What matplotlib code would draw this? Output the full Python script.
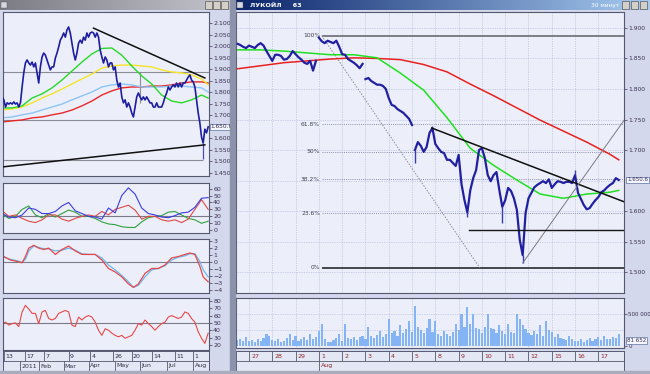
import numpy as np
import matplotlib
matplotlib.use('Agg')
import matplotlib.pyplot as plt
from matplotlib.patches import Rectangle
from matplotlib.ticker import FuncFormatter
from matplotlib.colors import LinearSegmentedColormap
from matplotlib.transforms import blended_transform_factory

# ---------------- left window: daily, Dec 2010 - Aug 2011 ----------------
left_close = [1780, 1767, 1736, 1754, 1749, 1754, 1749, 1758, 1749, 1754,
              1736, 1754, 1823, 1884, 1927, 1940, 1927, 1918, 1931, 1910,
              1927, 1884, 1840, 1910, 1953, 1970, 1961, 1940, 1918, 1897,
              1910, 1910, 1948, 1970, 1996, 2026, 2039, 2057, 2039, 2070,
              2083, 2057, 2013, 1970, 1940, 1970, 2013, 2026, 2013, 2039,
              2026, 2057, 2039, 2057, 2061, 2057, 2039, 2057, 2039, 1983,
              1953, 1927, 1953, 1940, 1910, 1927, 1927, 1897, 1910, 1853,
              1823, 1840, 1780, 1754, 1767, 1736, 1754, 1736, 1710, 1693,
              1736, 1780, 1797, 1780, 1767, 1780, 1767, 1780, 1767, 1754,
              1754, 1736, 1736, 1754, 1736, 1736, 1736, 1754, 1780, 1797,
              1823, 1810, 1823, 1832, 1823, 1840, 1823, 1840, 1823, 1840,
              1840, 1853, 1866, 1875, 1853, 1845, 1823, 1767, 1710, 1667,
              1606, 1580, 1640, 1624, 1650]
left_spike_idx = [121]
left_spike_val = [1510]

left_ma_idx = [0, 6, 12, 18, 24, 30, 36, 42, 48, 54, 60, 66, 72, 78, 84, 90,
               96, 102, 108, 114, 120, 124]
left_green = [1732, 1732, 1741, 1775, 1793, 1819, 1853, 1892, 1931, 1966, 1990,
              1992, 1961, 1914, 1871, 1836, 1788, 1762, 1754, 1767, 1788, 1775]
left_yellow = [1723, 1728, 1736, 1754, 1775, 1793, 1814, 1836, 1858, 1879, 1905,
               1914, 1918, 1918, 1914, 1910, 1897, 1888, 1884, 1875, 1858, 1832]
left_lblue = [1689, 1693, 1702, 1710, 1723, 1736, 1749, 1767, 1784, 1801, 1823,
              1832, 1836, 1832, 1823, 1823, 1823, 1827, 1827, 1823, 1819, 1801]
left_red = [1671, 1676, 1680, 1689, 1693, 1702, 1710, 1723, 1741, 1762, 1788,
            1806, 1819, 1823, 1823, 1827, 1827, 1832, 1840, 1845, 1845, 1840]

left_levels = [1888, 1680]
left_low_level = 1507
left_trend_top = ([55, 122], [2078, 1862])
left_trend_bot = ([1, 122], [1477, 1572])

adx_idx = list(range(0, 125, 4))
adx_blue = [24, 19, 18, 22, 32, 30, 24, 24, 27, 35, 40, 28, 24, 20, 19, 16,
            32, 25, 50, 61, 52, 32, 24, 22, 19, 18, 21, 25, 26, 33, 46, 47]
adx_red = [28, 20, 22, 17, 13, 11, 15, 22, 22, 16, 13, 17, 20, 22, 20, 27,
           22, 30, 33, 36, 29, 16, 20, 20, 15, 13, 15, 11, 16, 30, 44, 30]
adx_green = [23, 17, 20, 30, 35, 22, 18, 24, 19, 24, 29, 26, 20, 20, 17, 12,
             9, 8, 5, 4, 4, 12, 18, 20, 21, 26, 27, 22, 17, 15, 10, 13]

macd_idx = [1, 5, 9, 12, 14, 16, 19, 22, 25, 28, 32, 36, 40, 44, 48, 52, 56, 60,
            64, 68, 72, 76, 79, 82, 86, 90, 94, 98, 102, 106, 110, 113, 116, 119,
            121, 124]
macd_red = [0.8, 0.3, 0.1, -0.1, 0.8, 2.0, 2.4, 2.0, 1.8, 2.0, 1.1, 1.8, 2.3, 1.6,
            1.1, 1.1, 1.1, 0.3, -0.9, -1.4, -2.1, -3.1, -3.6, -3.1, -1.6, -0.9,
            -0.9, -0.4, 0.6, 0.8, 1.1, 1.3, 1.1, -0.6, -2.1, -2.8]
macd_blue = [0.7, 0.4, 0.2, 0.0, 0.4, 1.6, 2.3, 2.1, 1.9, 1.9, 1.6, 1.7, 2.0, 1.7,
             1.2, 1.1, 1.1, 0.6, -0.4, -1.1, -1.9, -2.8, -3.6, -3.3, -2.1, -1.1,
             -0.9, -0.5, 0.3, 0.7, 0.9, 1.2, 1.2, 0.1, -1.1, -2.1]

rsi_idx = list(range(0, 125, 2))
rsi_vals = [49, 51, 47, 49, 50, 45, 65, 74, 69, 63, 63, 49, 65, 67, 56, 54, 56,
            63, 65, 67, 65, 47, 45, 58, 54, 58, 60, 58, 51, 40, 33, 42, 40, 36,
            33, 31, 33, 29, 31, 33, 40, 49, 47, 54, 49, 45, 40, 45, 49, 51, 58,
            60, 58, 56, 58, 65, 63, 56, 51, 38, 29, 22, 36]

left_day_ticks = [1, 14, 25, 40, 53, 67, 78, 90, 104, 115]
left_day_labels = ['13', '17', '7', '9', '4', '26', '20', '14', '11', '1']
left_month_ticks = [11, 22, 37, 52, 68, 83, 99, 115]
left_month_labels = ['2011', 'Feb', 'Mar', 'Apr', 'May', 'Jun', 'Jul', 'Aug']

# ---------------- right window: intraday, 27 Jul - 17 Aug 2011 ----------------
right_close = [1874, 1872, 1869, 1867, 1871, 1869, 1867, 1872, 1875, 1871,
               1862, 1854, 1846, 1856, 1856, 1854, 1848, 1849, 1854, 1862,
               1857, 1852, 1848, 1843, 1841, 1846, 1830, 1846, 1884, 1878,
               1875, 1879, 1877, 1875, 1879, 1869, 1857, 1856, 1849, 1846,
               1843, 1839, 1834, 1841, 1816, 1818, 1813, 1810, 1807, 1807,
               1805, 1800, 1785, 1774, 1772, 1767, 1764, 1761, 1756, 1751,
               1741, 1700, 1713, 1707, 1697, 1705, 1728, 1736, 1710, 1703,
               1697, 1695, 1684, 1684, 1679, 1674, 1692, 1644, 1618, 1598,
               1634, 1654, 1667, 1700, 1703, 1687, 1659, 1649, 1659, 1664,
               1634, 1607, 1618, 1638, 1633, 1621, 1602, 1553, 1528, 1597,
               1621, 1630, 1639, 1643, 1646, 1649, 1646, 1652, 1638, 1644,
               1649, 1648, 1646, 1648, 1648, 1646, 1659, 1630, 1620, 1610,
               1603, 1605, 1612, 1618, 1623, 1631, 1634, 1639, 1643, 1646,
               1654, 1651]
right_breaks = [27, 43, 60]
right_spike_idx = [61, 67, 79, 91, 98, 116]
right_spike_val = [1679, 1740, 1590, 1580, 1515, 1668]

right_ma_idx = [0, 8, 16, 24, 32, 40, 48, 56, 64, 72, 80, 88, 96, 104, 112, 120,
                128, 131]
right_red = [1833, 1838, 1843, 1846, 1849, 1851, 1850, 1848, 1840, 1828, 1808,
             1789, 1769, 1749, 1731, 1713, 1693, 1684]
right_green = [1864, 1864, 1862, 1859, 1856, 1856, 1851, 1826, 1798, 1753, 1703,
               1675, 1651, 1628, 1621, 1628, 1631, 1634]

volume_k = [90, 110, 80, 130, 70, 90, 60, 110, 80, 120,
            190, 160, 90, 70, 100, 60, 80, 120, 190, 90,
            150, 70, 100, 130, 90, 190, 110, 140, 240, 350,
            110, 60, 50, 90, 120, 190, 80, 350, 120, 100,
            140, 90, 130, 160, 110, 290, 150, 120, 170, 240,
            130, 180, 430, 200, 240, 150, 330, 200, 260, 400,
            220, 640, 300, 250, 200, 280, 430, 220, 400, 180,
            150, 240, 190, 160, 220, 350, 250, 510, 300, 610,
            350, 510, 280, 260, 200, 300, 510, 280, 260, 200,
            330, 240, 180, 350, 220, 200, 510, 420, 330, 260,
            200, 170, 230, 190, 330, 160, 400, 250, 220, 130,
            190, 120, 100, 90, 160, 110, 80, 70, 100, 60,
            90, 120, 80, 100, 130, 90, 150, 110, 100, 140,
            120, 190]

fib_hi, fib_lo, fib_start = 1887, 1507, 29
fib_ratios = [1.0, 0.618, 0.5, 0.382, 0.236, 0.0]
fib_labels = ['100%', '61.8%', '50%', '38.2%', '23.6%', '0%']
fib_diag = ([29, 83.3], [1887, 1507])
right_trend = ([66.8, 133], [1736, 1615])
right_channel = ([98, 133], [1515, 1750])
right_support = ([79.5, 133], [1569, 1569])

right_day_ticks = [4, 12, 20, 28, 36, 44, 52, 60, 68, 76, 84, 92, 100, 108, 116, 124]
right_day_labels = ['27', '28', '29', '1', '2', '3', '4', '5', '8', '9', '10',
                    '11', '12', '15', '16', '17']
right_month_ticks = [28]
right_month_labels = ['Aug']

# ---------------- figure ----------------
W, H = 650, 374
fig = plt.figure(figsize=(6.5, 3.74), dpi=100, facecolor='#d3d8ec')

def px_axes(x0, y0, x1, y1):
    return fig.add_axes([x0 / W, 1 - y1 / H, (x1 - x0) / W, (y1 - y0) / H])

def frame(x0, y0, x1, y1, color):
    fig.patches.append(Rectangle((x0 / W, 1 - y1 / H), (x1 - x0) / W, (y1 - y0) / H,
                                 transform=fig.transFigure, color=color, zorder=0))

# window borders and scroll strip
frame(230, 0, 235, 374, '#8c92aa')
frame(0, 371, 650, 374, '#a8acbc')

thou = FuncFormatter(lambda v, p: f'{int(round(v)) // 1000}.{int(round(v)) % 1000:03d}')
TXT = '#3a3050'
FS = 4.5

def style(ax, face='#eceffa'):
    ax.set_facecolor(face)
    for s in ax.spines.values():
        s.set_color('#55586e')
        s.set_linewidth(0.8)
    ax.yaxis.tick_right()
    ax.tick_params(axis='y', labelsize=FS, colors=TXT, length=2, width=0.5, pad=1)
    ax.set_xticks([])

def value_box(ax, y, text, fs=4.2):
    tr = blended_transform_factory(ax.transAxes, ax.transData)
    ax.text(1.008, y, text, transform=tr, fontsize=fs, color=TXT, va='center',
            ha='left', zorder=10,
            bbox=dict(boxstyle='square,pad=0.12', fc='#f4f6ff', ec='#6070a0', lw=0.5))

def title_bar(x0, x1, c0, c1, text=None, right_text=None):
    ax = px_axes(x0, 0, x1, 10)
    cmap = LinearSegmentedColormap.from_list('tb', [c0, c1])
    ax.imshow(np.linspace(0, 1, 256)[None, :], cmap=cmap, aspect='auto',
              extent=[0, 1, 0, 1])
    ax.set_xlim(0, 1)
    ax.set_ylim(0, 1)
    ax.axis('off')
    bw = 7.0 / (x1 - x0)
    for k in range(3):
        ax.add_patch(Rectangle((1 - (k + 1) * (bw + 0.004) - 0.004, 0.12), bw, 0.76,
                               facecolor='#d4d0c8', edgecolor='#404040', lw=0.4))
    ax.add_patch(Rectangle((0.005, 0.2), 6.0 / (x1 - x0), 0.6, facecolor='#d8d8e0',
                           edgecolor='#505050', lw=0.3))
    if text:
        ax.text(0.035, 0.5, text, color='white', fontsize=4.6, weight='bold',
                va='center', ha='left')
    if right_text:
        ax.text(1 - 3 * (bw + 0.004) - 0.012, 0.5, right_text, color='white',
                fontsize=4.2, va='center', ha='right')

title_bar(0, 230, '#7c7c84', '#c4c4cc')
title_bar(235, 650, '#0a246a', '#a6caf0', 'ЛУКОЙЛ     63', '30 минут')

# ---------------- left price ----------------
lx = np.arange(len(left_close))
ax = px_axes(3, 12, 209, 176)
style(ax)
ax.set_xlim(0.5, 124.5)
ax.set_ylim(1437, 2148)
ax.set_yticks([v for v in range(1450, 2101, 50) if v != 1650])
ax.yaxis.set_major_formatter(thou)
for lv in left_levels:
    ax.axhline(lv, color='#8c8c98', lw=0.8, zorder=1)
ax.hlines(left_low_level, 0.5, 121, color='#8c8c98', lw=0.8, zorder=1)
ax.vlines(83, 1754, 1888, color='#8c8c98', lw=0.8, zorder=1)
ax.plot(left_ma_idx, left_red, color='#e82828', lw=1.0, zorder=2)
ax.plot(left_ma_idx, left_lblue, color='#8cc4f4', lw=1.0, zorder=2)
ax.plot(left_ma_idx, left_yellow, color='#f4e428', lw=1.0, zorder=2)
ax.plot(left_ma_idx, left_green, color='#28d828', lw=1.0, zorder=2)
ax.plot(lx, left_close, color='#1e1ea0', lw=1.2, zorder=3)
ax.vlines(left_spike_idx, [left_close[i] for i in left_spike_idx], left_spike_val,
          color='#4a4ab8', lw=0.9, zorder=3)
ax.plot(*left_trend_top, color='#101010', lw=1.1, zorder=4)
ax.plot(*left_trend_bot, color='#101010', lw=1.1, zorder=4)
value_box(ax, left_close[-1], '1.650.6')

# ADX-style panel
ax = px_axes(3, 183, 209, 233)
style(ax)
ax.set_xlim(0.5, 124.5)
ax.set_ylim(-4, 68)
ax.set_yticks(range(0, 61, 10))
ax.axhline(20, color='#7a7a88', lw=0.8)
ax.plot(adx_idx, adx_green, color='#30a040', lw=0.8)
ax.plot(adx_idx, adx_red, color='#e04848', lw=0.8)
ax.plot(adx_idx, adx_blue, color='#3c3ce0', lw=0.8)

# MACD panel
ax = px_axes(3, 239, 209, 293)
style(ax)
ax.set_xlim(0.5, 124.5)
ax.set_ylim(-4.4, 3.3)
ax.set_yticks(range(-4, 4))
ax.axhline(0, color='#7a7a88', lw=0.8)
ax.plot(macd_idx, macd_blue, color='#68b8f0', lw=0.9)
ax.plot(macd_idx, macd_red, color='#e84848', lw=0.9)

# RSI panel
ax = px_axes(3, 298, 209, 350)
style(ax)
ax.set_xlim(0.5, 124.5)
ax.set_ylim(13, 84)
ax.set_yticks(range(20, 81, 10))
ax.axhline(50, color='#7a7a88', lw=0.8)
ax.plot(rsi_idx, rsi_vals, color='#e84848', lw=0.8)

def date_axis(x0, x1, xlim, day_ticks, day_labels, month_ticks, month_labels, color):
    ax = px_axes(x0, 351, x1, 371)
    ax.set_facecolor('#e4e7f4')
    for s in ax.spines.values():
        s.set_color('#55586e')
        s.set_linewidth(0.7)
    ax.set_xlim(*xlim)
    ax.set_ylim(0, 2)
    ax.set_xticks([])
    ax.set_yticks([])
    ax.axhline(1, color='#55586e', lw=0.6)
    ax.vlines(day_ticks, 1, 2, color='#55586e', lw=0.6)
    ax.vlines(month_ticks, 0, 1, color='#55586e', lw=0.6)
    off = (xlim[1] - xlim[0]) * 0.006
    for t, l in zip(day_ticks, day_labels):
        ax.text(t + off, 1.5, l, fontsize=FS, color=color, va='center', ha='left')
    for t, l in zip(month_ticks, month_labels):
        ax.text(t + off, 0.5, l, fontsize=FS, color=color, va='center', ha='left')

date_axis(3, 209, (0.5, 124.5), left_day_ticks, left_day_labels,
          left_month_ticks, left_month_labels, '#303048')

# ---------------- right price ----------------
rx = np.arange(len(right_close), dtype=float)
ax = px_axes(236, 12, 624, 293)
style(ax)
ax.tick_params(axis='y', labelsize=4.3)
ax.set_xlim(-0.46, 132.8)
ax.set_ylim(1466, 1926)
ax.set_yticks([v for v in range(1500, 1901, 50) if v != 1650])
ax.yaxis.set_major_formatter(thou)
for t in right_day_ticks:
    ax.axvline(t, color='#a8b2d4', lw=0.5, ls=(0, (1, 1.5)), zorder=0)
for v in range(1500, 1901, 50):
    ax.axhline(v, color='#a8b2d4', lw=0.5, ls=(0, (1, 1.5)), zorder=0)

span = fib_hi - fib_lo
for r, lab in zip(fib_ratios, fib_labels):
    lv = fib_lo + r * span
    if r == 1.0:
        ax.hlines(lv, fib_start, 133, color='#6a6a72', lw=1.2, zorder=1)
    elif r == 0.0:
        ax.hlines(lv, fib_start, 133, color='#181818', lw=1.1, zorder=1)
    else:
        ax.hlines(lv, fib_start, 133, color='#8a90a8', lw=0.7, ls=(0, (1, 1.2)), zorder=1)
    ax.text(fib_start - 0.6, lv, lab, fontsize=4.3, color='#404050', ha='right',
            va='center')
ax.plot(*fib_diag, color='#8a8a98', lw=0.7, ls=(0, (1.5, 1.5)), zorder=1)

ax.plot(right_ma_idx, right_red, color='#e82020', lw=1.1, zorder=2)
ax.plot(right_ma_idx, right_green, color='#20e020', lw=1.1, zorder=2)

cx = list(rx)
cy = list(map(float, right_close))
for b in reversed(right_breaks):
    cx.insert(b + 1, np.nan)
    cy.insert(b + 1, np.nan)
ax.plot(cx, cy, color='#2020a0', lw=1.6, zorder=3)
ax.vlines(right_spike_idx, [right_close[i] for i in right_spike_idx], right_spike_val,
          color='#3a3ab0', lw=1.0, zorder=3)

ax.plot(*right_trend, color='#101010', lw=1.1, zorder=4)
ax.plot(*right_channel, color='#7a7a84', lw=0.7, zorder=4)
ax.plot(*right_support, color='#181818', lw=1.0, zorder=4)
value_box(ax, right_close[-1], '1.650.6', fs=4.0)

# volume
ax = px_axes(236, 298, 624, 348)
style(ax)
ax.tick_params(axis='y', labelsize=4.1)
ax.set_xlim(-0.46, 132.8)
ax.set_ylim(-40000, 760000)
ax.set_yticks([0, 500000])
ax.set_yticklabels(['0', '500 000'])
for t in right_day_ticks:
    ax.axvline(t, color='#a8b2d4', lw=0.5, ls=(0, (1, 1.5)), zorder=0)
ax.axhline(500000, color='#a8b2d4', lw=0.5, ls=(0, (1, 1.5)), zorder=0)
ax.axhline(250000, color='#a8b2d4', lw=0.5, ls=(0, (1, 1.5)), zorder=0)
ax.bar(rx, np.array(volume_k) * 1000, width=0.75, color='#84b4f4', zorder=2)
value_box(ax, 81652, '81 652', fs=4.0)

date_axis(236, 624, (-0.46, 132.8), right_day_ticks, right_day_labels,
          right_month_ticks, right_month_labels, '#902828')

fig.savefig('out.png', dpi=100, facecolor=fig.get_facecolor())
